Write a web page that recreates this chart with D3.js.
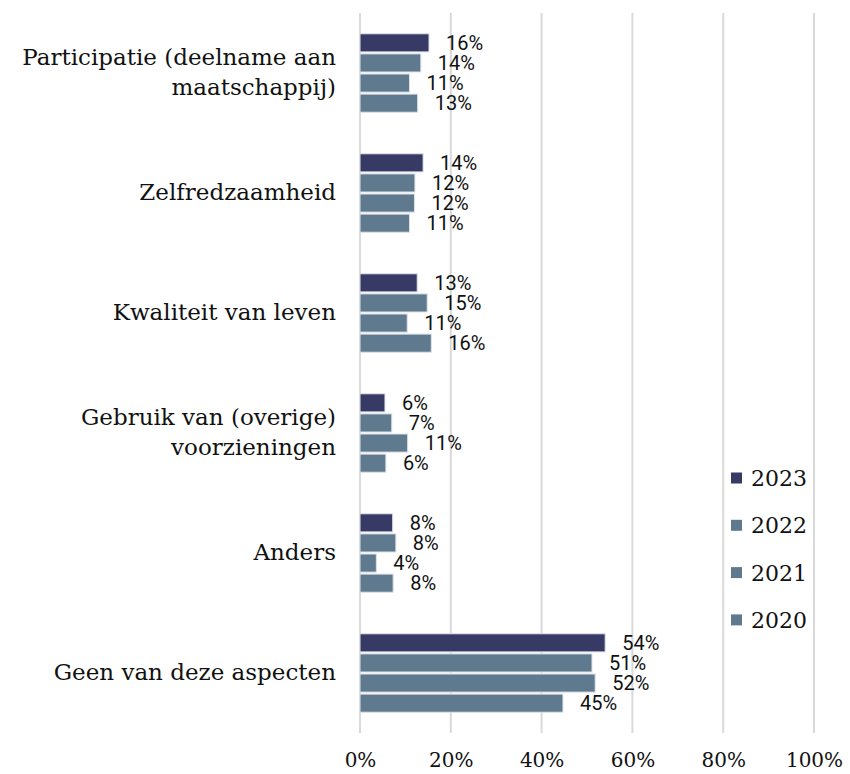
<!DOCTYPE html>
<html>
<head>
<meta charset="utf-8">
<script src="https://cdn.jsdelivr.net/npm/d3@7"></script>
<style>
  html, body { margin: 0; padding: 0; background: #fff; }
  svg { display: block; }
</style>
</head>
<body>
<svg id="chart" width="850" height="774"></svg>
<script>
// ---- data ----
const categories = [
  ["Participatie (deelname aan", "maatschappij)"],
  ["Zelfredzaamheid"],
  ["Kwaliteit van leven"],
  ["Gebruik van (overige)", "voorzieningen"],
  ["Anders"],
  ["Geen van deze aspecten"]
];
const years = ["2023", "2022", "2021", "2020"];
// bar lengths (%)
const values2023 = [15.2, 13.9, 12.6, 5.5, 7.2, 54.0];
const values2022 = [13.4, 12.1, 14.8, 7.0, 7.9, 51.1];
const values2021 = [10.9, 12.0, 10.4, 10.5, 3.6, 51.8];
const values2020 = [12.7, 10.9, 15.7, 5.7, 7.3, 44.7];
// printed data labels
const labels2023 = ["16%", "14%", "13%", "6%", "8%", "54%"];
const labels2022 = ["14%", "12%", "15%", "7%", "8%", "51%"];
const labels2021 = ["11%", "12%", "11%", "11%", "4%", "52%"];
const labels2020 = ["13%", "11%", "16%", "6%", "8%", "45%"];
const xTicks = [0, 20, 40, 60, 80, 100];
const colors = ["#383a66", "#5f7a8e", "#5f7a8e", "#5f7a8e"];

const seriesValues = [values2023, values2022, values2021, values2020];
const seriesLabels = [labels2023, labels2022, labels2021, labels2020];

// ---- layout ----
const svg = d3.select("#chart");
const plotLeft = 360, plotRight = 814, plotTop = 13, plotBottom = 733;

const x = d3.scaleLinear().domain([0, 100]).range([plotLeft, plotRight]);
const y = d3.scaleBand()
  .domain(d3.range(categories.length))
  .range([plotTop, plotBottom])
  .paddingInner(0.33).paddingOuter(0.165);
const ySub = d3.scaleBand().domain(years).range([0, y.bandwidth()]);

// gridlines
svg.append("g")
  .selectAll("line")
  .data(xTicks)
  .join("line")
  .attr("x1", d => x(d)).attr("x2", d => x(d))
  .attr("y1", plotTop).attr("y2", plotBottom)
  .attr("stroke", "#d9d9d9")
  .attr("stroke-width", 2);

// x axis tick labels
const xAxis = d3.axisBottom(x).tickValues(xTicks).tickSize(0).tickFormat(d => d + "%");
const gx = svg.append("g")
  .attr("transform", `translate(0,${plotBottom})`)
  .call(xAxis);
gx.select(".domain").remove();
gx.selectAll("text")
  .attr("font-family", "'DejaVu Serif', serif")
  .attr("font-size", 20)
  .attr("fill", "#111")
  .attr("y", 34)
  .attr("dy", 0);

// category labels
const catG = svg.append("g");
categories.forEach((lines, i) => {
  const cy = y(i) + y.bandwidth() / 2;
  const n = lines.length;
  lines.forEach((ln, j) => {
    catG.append("text")
      .attr("x", 336)
      .attr("y", cy + (j - (n - 1) / 2) * 30)
      .attr("dy", "0.3em")
      .attr("text-anchor", "end")
      .attr("font-family", "'DejaVu Serif', serif")
      .attr("font-size", 23)
      .attr("fill", "#111")
      .text(ln);
  });
});

// bars
years.forEach((yr, s) => {
  const g = svg.append("g");
  g.selectAll("rect")
    .data(seriesValues[s])
    .join("rect")
    .attr("x", x(0))
    .attr("y", (d, i) => y(i) + ySub(yr) + 1)
    .attr("width", d => x(d) - x(0))
    .attr("height", ySub.bandwidth() - 2)
    .attr("fill", colors[s])
    .attr("stroke", "#dde2e8")
    .attr("stroke-width", 1);
  g.selectAll("text")
    .data(seriesValues[s])
    .join("text")
    .attr("x", d => x(d) + 17)
    .attr("y", (d, i) => y(i) + ySub(yr) + ySub.bandwidth() / 2)
    .attr("dy", "0.36em")
    .attr("font-family", "Roboto, sans-serif")
    .attr("font-size", 20)
    .attr("fill", "#111")
    .text((d, i) => seriesLabels[s][i]);
});

// legend
const legend = svg.append("g");
years.forEach((yr, s) => {
  const ly = 478 + s * 47.3;
  legend.append("rect")
    .attr("x", 731).attr("y", ly - 5.5)
    .attr("width", 11).attr("height", 11)
    .attr("fill", colors[s]);
  legend.append("text")
    .attr("x", 751).attr("y", ly)
    .attr("dy", "0.36em")
    .attr("font-family", "'DejaVu Serif', serif")
    .attr("font-size", 22)
    .attr("fill", "#111")
    .text(yr);
});
</script>
</body>
</html>
